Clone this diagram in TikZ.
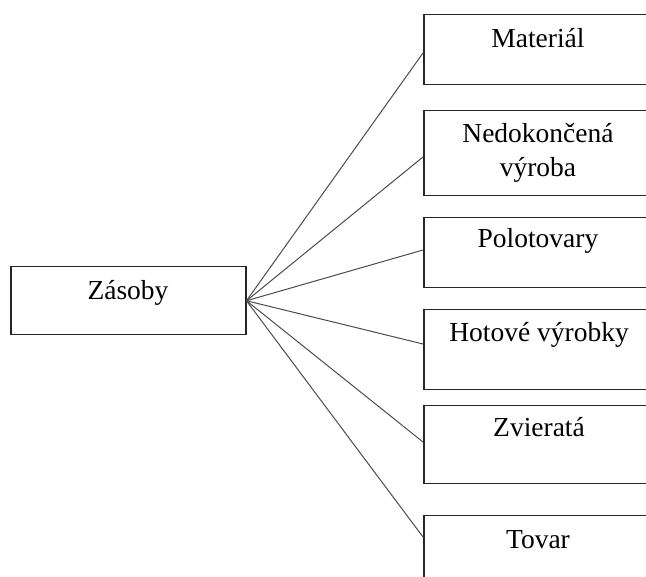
\documentclass[tikz,border=0pt]{standalone}
\usepackage{fontspec}
\setmainfont{Liberation Serif}
\usetikzlibrary{calc}
\begin{document}
\begin{tikzpicture}[x=1pt,y=-1pt,
  box/.style={draw=black!85,line width=1.5pt,rectangle,inner sep=0pt,anchor=north west,minimum width=230pt},
  lbl/.style={inner sep=0pt,anchor=base,font=\fontsize{27.5}{34}\selectfont,align=center},
  conn/.style={draw=black!70,line width=1pt}]
\clip (0,0) rectangle (646,577);
\fill[white] (0,0) rectangle (646,577);
% left box
\node[box,minimum width=235pt,minimum height=68pt] (z) at (10,266) {};
\node[lbl] (zt) at (128,300) {Zásoby};
% right boxes
\node[box,minimum height=70pt] (b1) at (423,14) {};
\node[box,minimum height=85pt] (b2) at (423,110) {};
\node[box,minimum height=70pt] (b3) at (423,217) {};
\node[box,minimum height=80pt] (b4) at (423,309) {};
\node[box,minimum height=78pt] (b5) at (423,405) {};
\node[box,minimum height=80pt] (b6) at (423,515) {};
\node[lbl] (t1) at (538,48) {Materiál};
\node[lbl] (t2) at (538,177) {Nedokončená\\výroba};
\node[lbl] (t3) at (538,248) {Polotovary};
\node[lbl] (t4) at (539,342) {Hotové výrobky};
\node[lbl] (t5) at (539,437) {Zvieratá};
\node[lbl] (t6) at (538,548) {Tovar};
% connectors
\draw[conn] (z.east) -- ($(b1.north west)+(0,39)$);
\draw[conn] (z.east) -- ($(b2.north west)+(0,47)$);
\draw[conn] (z.east) -- ($(b3.north west)+(0,33)$);
\draw[conn] (z.east) -- ($(b4.north west)+(0,35)$);
\draw[conn] (z.east) -- ($(b5.north west)+(0,37)$);
\draw[conn] (z.east) -- ($(b6.north west)+(0,22)$);
\end{tikzpicture}
\end{document}
